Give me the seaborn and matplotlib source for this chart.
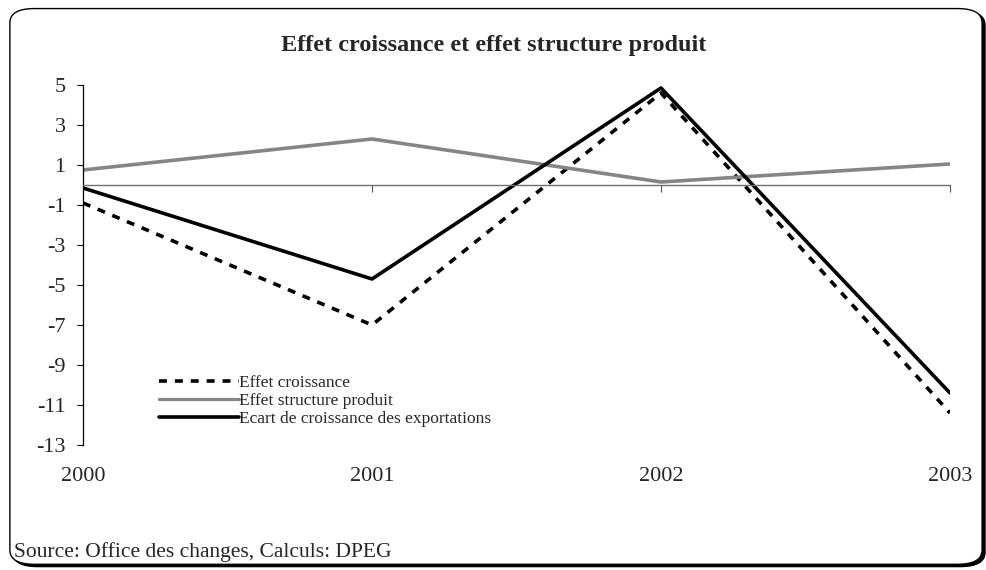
import matplotlib
matplotlib.use('Agg')
import matplotlib.pyplot as plt
from matplotlib.patches import FancyBboxPatch
import seaborn as sns
import pandas as pd

years = [2000, 2001, 2002, 2003]
effet_croissance = [-0.9, -7.0, 4.6, -11.4]
effet_structure = [0.75, 2.3, 0.15, 1.05]
ecart_croissance = [-0.15, -4.7, 4.85, -10.4]
series_names = ['Effet croissance', 'Effet structure produit',
                'Ecart de croissance des exportations']
y_ticks = list(range(-13, 6, 2))

sns.set_style("white")
plt.rcParams['font.family'] = ['Liberation Serif', 'DejaVu Serif']

df = pd.DataFrame({
    'year': years * 3,
    'value': effet_croissance + effet_structure + ecart_croissance,
    'serie': [series_names[0]] * 4 + [series_names[1]] * 4 + [series_names[2]] * 4,
})

fig = plt.figure(figsize=(9.87, 5.70), dpi=100)

# rounded frame with shadow (behind the axes)
shadow = FancyBboxPatch((0.013, 0.006), 0.985, 0.975, boxstyle="round,pad=0,rounding_size=0.025",
                        transform=fig.transFigure, facecolor='black', edgecolor='black', zorder=-2)
frame = FancyBboxPatch((0.010, 0.010), 0.985, 0.975, boxstyle="round,pad=0,rounding_size=0.025",
                       transform=fig.transFigure, facecolor='white', edgecolor='black', lw=1.0, zorder=-1)
fig.patches.extend([shadow, frame])

ax = fig.add_axes([0.0841, 0.2193, 0.8784, 0.6316])
ax.set_facecolor('none')
ax.set_zorder(2)

palette = {series_names[0]: 'black', series_names[1]: '#858585', series_names[2]: 'black'}
dashes = {series_names[0]: (2.2, 2.2), series_names[1]: '', series_names[2]: ''}
sns.lineplot(data=df, x='year', y='value', hue='serie', style='serie', palette=palette,
             dashes=dashes, ax=ax, linewidth=2.6, legend=True)
for line in ax.get_lines():
    if line.get_label() == series_names[1]:
        line.set_linewidth(2.3)

ax.set_xlim(years[0], years[-1])
ax.set_ylim(-13, 5)
ax.set_yticks(y_ticks)
ax.set_yticklabels([str(t) for t in y_ticks], fontsize=16)
ax.tick_params(axis='y', direction='out', length=4.5, width=0.8, color='black', pad=8, left=True)

# x axis drawn on zero line, labels at the bottom
for s in ['top', 'right']:
    ax.spines[s].set_visible(False)
ax.spines['left'].set_color('black')
ax.spines['left'].set_linewidth(0.9)
ax.spines['bottom'].set_position(('data', 0))
ax.spines['bottom'].set_color('#707070')
ax.spines['bottom'].set_linewidth(1.0)
ax.set_xticks(years)
ax.tick_params(axis='x', direction='out', length=5, width=0.8, color='#505050',
               labelbottom=False, bottom=True)
sec = ax.secondary_xaxis('bottom')
sec.set_xticks(years)
sec.set_xticklabels([str(y) for y in years], fontsize=16)
sec.tick_params(length=0, pad=16)
sec.spines['bottom'].set_visible(False)

ax.set_xlabel('')
ax.set_ylabel('')

handles, labels = ax.get_legend_handles_labels()
ax.legend(handles, labels, loc='upper left', bbox_to_anchor=(0.08, 0.215), frameon=False,
          fontsize=12.5, handlelength=4.6, handletextpad=0.0, labelspacing=0.12,
          borderaxespad=0)

fig.text(0.50, 0.921, 'Effet croissance et effet structure produit', ha='center', va='center',
         fontsize=17.5, fontweight='bold')
fig.text(0.014, 0.032, 'Source: Office des changes, Calculs: DPEG', ha='left', va='center',
         fontsize=15.5)

fig.savefig('out.png', dpi=100)
